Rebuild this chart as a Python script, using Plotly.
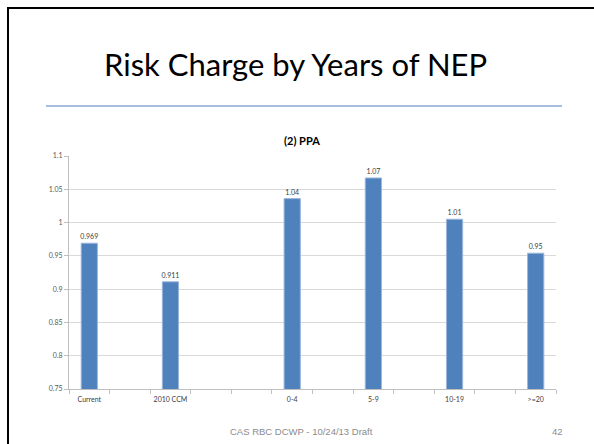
import plotly.graph_objects as go

# ---- data ----
slots = ["Current", " ", "2010 CCM", "  ", "   ", "0-4", "    ", "5-9", "     ", "10-19", "      ", ">=20"]
values = [0.969, None, 0.911, None, None, 1.036, None, 1.067, None, 1.005, None, 0.954]
value_labels = ["0.969", "", "0.911", "", "", "1.04", "", "1.07", "", "1.01", "", "0.95"]
y_ticks = [0.75, 0.8, 0.85, 0.9, 0.95, 1.0, 1.05, 1.1]
y_tick_labels = ["0.75", "0.8", "0.85", "0.9", "0.95", "1", "1.05", "1.1"]
slide_title = "Risk Charge by Years of NEP"
chart_title = "(2) PPA"
footer_text = "CAS RBC DCWP - 10/24/13 Draft"
page_number = "42"

W, H = 594, 444
ML, MR, MT, MB = 69, 38, 156, 55
PW, PH = W - ML - MR, H - MT - MB


def px(x):
    return (x - ML) / PW


def py(y):
    return (H - MB - y) / PH


fig = go.Figure()
fig.add_trace(go.Bar(
    x=slots,
    y=values,
    text=value_labels,
    textposition="outside",
    constraintext="none",
    cliponaxis=False,
    textfont=dict(family="Lato, Carlito, sans-serif", size=7, color="#404040"),
    marker=dict(color="#4F81BD", line=dict(color="#9CB7DC", width=1)),
    hoverinfo="skip",
))

fig.update_layout(
    width=W, height=H,
    margin=dict(l=ML, r=MR, t=MT, b=MB),
    paper_bgcolor="white", plot_bgcolor="white",
    showlegend=False,
    bargap=0.6,
    font=dict(family="Lato, sans-serif"),
)

fig.update_xaxes(
    type="category",
    categoryorder="array", categoryarray=slots,
    tickson="boundaries",
    ticks="outside", ticklen=4, tickcolor="#BFBFBF",
    tickangle=0,
    ticklabelstandoff=4,
    showline=True, linecolor="#BFBFBF", linewidth=1,
    showgrid=False,
    tickfont=dict(family="Lato, sans-serif", size=7, color="#404040"),
    fixedrange=True,
)
fig.update_yaxes(
    range=[0.75, 1.1],
    tickvals=y_ticks, ticktext=y_tick_labels,
    ticks="outside", ticklen=4, tickcolor="#BFBFBF",
    showline=True, linecolor="#BFBFBF", linewidth=1,
    showgrid=True, gridcolor="#D9D9D9", gridwidth=1,
    zeroline=False,
    tickfont=dict(family="Lato, sans-serif", size=7, color="#595959"),
    fixedrange=True,
)

# slide border
fig.add_shape(type="rect", xref="paper", yref="paper",
              x0=px(8), x1=px(W + 10), y0=py(8), y1=py(H + 10),
              line=dict(color="black", width=2), fillcolor="rgba(0,0,0,0)", layer="above")
# blue rule under title
fig.add_shape(type="line", xref="paper", yref="paper",
              x0=px(46), x1=px(562), y0=py(106), y1=py(106),
              line=dict(color="#4A7EBB", width=1))

fig.add_annotation(text=slide_title, xref="paper", yref="paper",
                   x=px(295.5), y=py(64), xanchor="center", yanchor="middle",
                   showarrow=False,
                   font=dict(family="Lato, sans-serif", size=31, color="black"))
fig.add_annotation(text="<b>" + chart_title + "</b>", xref="paper", yref="paper",
                   x=px(301.5), y=py(140), xanchor="center", yanchor="middle",
                   showarrow=False,
                   font=dict(family="Lato, sans-serif", size=11, color="black"))
fig.add_annotation(text=footer_text, xref="paper", yref="paper",
                   x=px(301), y=py(431), xanchor="center", yanchor="middle",
                   showarrow=False,
                   font=dict(family="Liberation Sans, Arial, sans-serif", size=9.5, color="#8B8B8B"))
fig.add_annotation(text=page_number, xref="paper", yref="paper",
                   x=px(557), y=py(431), xanchor="center", yanchor="middle",
                   showarrow=False,
                   font=dict(family="Liberation Sans, Arial, sans-serif", size=9.5, color="#8B8B8B"))

fig.write_html("out.html", config={"displayModeBar": False})
